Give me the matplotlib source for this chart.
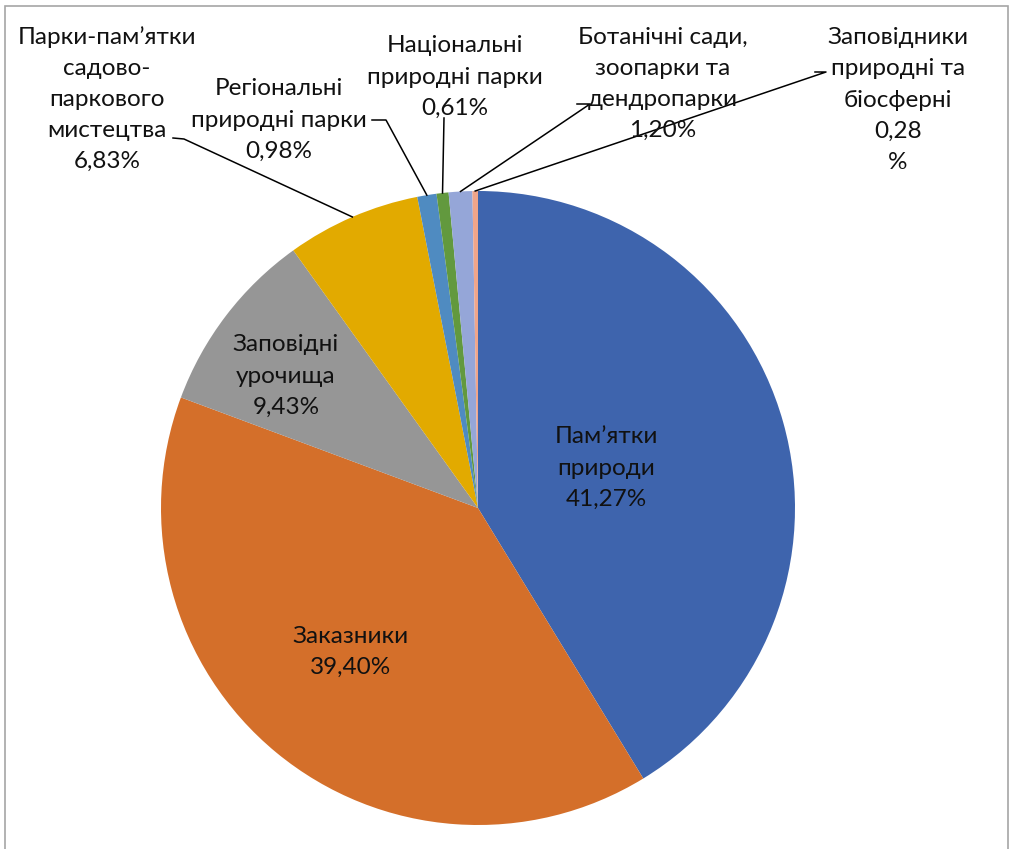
import matplotlib
matplotlib.use("Agg")
import matplotlib.pyplot as plt
import numpy as np

plt.rcParams['font.family'] = ['Lato', 'DejaVu Sans']

# дані
labels = ["Пам’ятки\nприроди", "Заказники", "Заповідні\nурочища",
          "Парки-пам’ятки\nсадово-\nпаркового\nмистецтва",
          "Регіональні\nприродні парки", "Національні\nприродні парки",
          "Ботанічні сади,\nзоопарки та\nдендропарки",
          "Заповідники\nприродні та\nбіосферні"]
values = [41.27, 39.40, 9.43, 6.83, 0.98, 0.61, 1.20, 0.28]
pct_text = ["41,27%", "39,40%", "9,43%", "6,83%", "0,98%", "0,61%", "1,20%", "0,28\n%"]
colors = ["#3E64AD", "#D46F2A", "#969696", "#E2AA00",
          "#4F8BC1", "#62993E", "#95A6D8", "#F0A58A"]

W, H = 1015, 849
fig = plt.figure(figsize=(W / 100, H / 100), dpi=100)
ax = fig.add_axes([0, 0, 1, 1])

cx, cy, r = 478, H - 508, 317
ax.pie(values, colors=colors, startangle=90, counterclock=False,
       center=(cx, cy), radius=r, frame=True,
       wedgeprops=dict(linewidth=0))
ax.set_xlim(0, W)
ax.set_ylim(0, H)
ax.axis('off')

# положення підписів (в пікселях зображення)
text_pos = [(606, 468), (351, 652), (286, 376), (107, 99),
            (279, 120), (455, 77), (663, 84), (898, 100)]
# початок виносок
anchors = [None, None, None, [(173, 138), (184, 139)],
           [(372, 120), (386, 120)], [(444, 118), (444, 118)],
           [(577, 104), (590, 104)], [(815, 72), (826, 72)]]

cum = np.cumsum([0] + values[:-1])
for i, (lab, pct) in enumerate(zip(labels, pct_text)):
    x, y = text_pos[i]
    ax.text(x, H - y, lab + "\n" + pct, ha='center', va='center',
            fontsize=17.5, linespacing=1.6, color='#111111')
    if anchors[i] is not None:
        mid = (cum[i] + values[i] / 2) / 100 * 2 * np.pi
        px = cx + r * np.sin(mid)
        py = cy + r * np.cos(mid)
        (x0, y0), (x1, y1) = anchors[i]
        ax.plot([x0, x1, px], [H - y0, H - y1, py], color='black', lw=1.1)

# рамка
fig.patches.append(plt.Rectangle((5 / W, -0.05), 1003 / W, 1.05 - 6 / H,
                                 transform=fig.transFigure, fill=False,
                                 edgecolor='#A6A6A6', lw=1.2))

fig.savefig("out.png", dpi=100)
